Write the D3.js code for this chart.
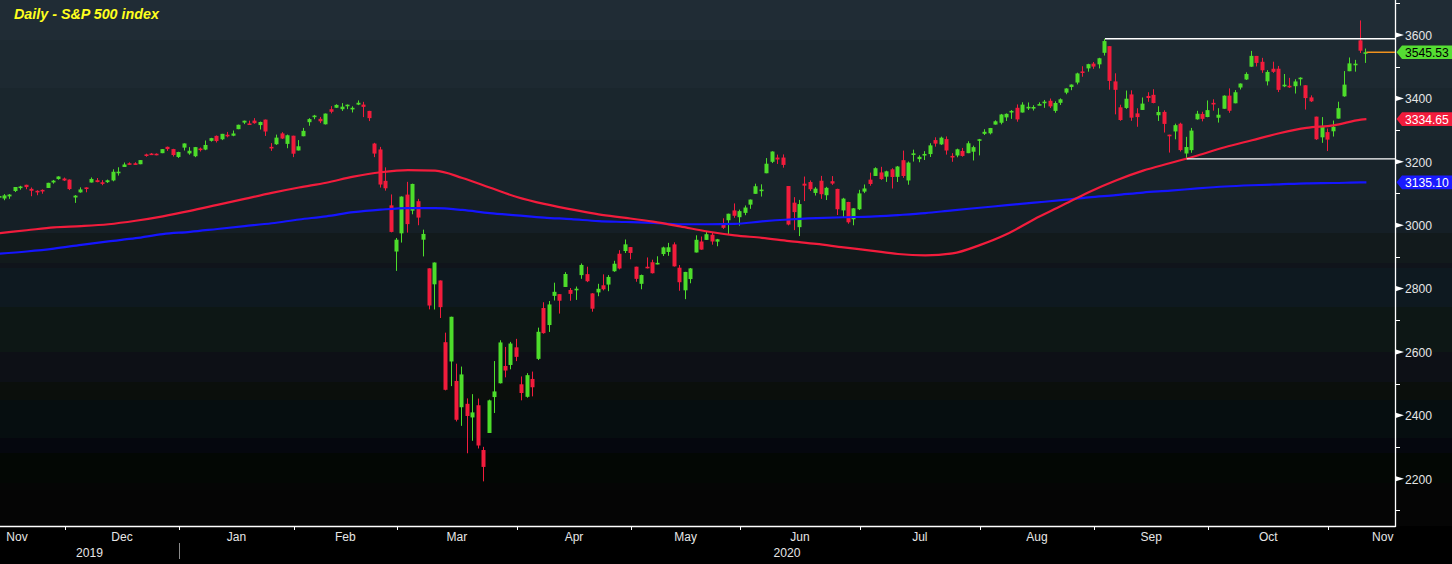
<!DOCTYPE html>
<html><head><meta charset="utf-8">
<script src="https://cdn.jsdelivr.net/npm/d3@7"></script>
<style>
html,body{margin:0;padding:0;background:#000;overflow:hidden}
svg{display:block}
text{font-family:"Liberation Sans",Arial,sans-serif}
</style></head><body>
<svg id="chart" width="1452" height="564"></svg>
<script>
// ---------------- DATA ----------------
const dates = [
"2019-11-12","2019-11-13","2019-11-14","2019-11-15","2019-11-18","2019-11-19","2019-11-20","2019-11-21","2019-11-22","2019-11-25","2019-11-26","2019-11-27","2019-11-29",
"2019-12-02","2019-12-03","2019-12-04","2019-12-05","2019-12-06","2019-12-09","2019-12-10","2019-12-11","2019-12-12","2019-12-13","2019-12-16","2019-12-17","2019-12-18","2019-12-19","2019-12-20","2019-12-23","2019-12-24","2019-12-26","2019-12-27","2019-12-30","2019-12-31",
"2020-01-02","2020-01-03","2020-01-06","2020-01-07","2020-01-08","2020-01-09","2020-01-10","2020-01-13","2020-01-14","2020-01-15","2020-01-16","2020-01-17","2020-01-21","2020-01-22","2020-01-23","2020-01-24","2020-01-27","2020-01-28","2020-01-29","2020-01-30","2020-01-31",
"2020-02-03","2020-02-04","2020-02-05","2020-02-06","2020-02-07","2020-02-10","2020-02-11","2020-02-12","2020-02-13","2020-02-14","2020-02-18","2020-02-19","2020-02-20","2020-02-21","2020-02-24","2020-02-25","2020-02-26","2020-02-27","2020-02-28",
"2020-03-02","2020-03-03","2020-03-04","2020-03-05","2020-03-06","2020-03-09","2020-03-10","2020-03-11","2020-03-12","2020-03-13","2020-03-16","2020-03-17","2020-03-18","2020-03-19","2020-03-20","2020-03-23","2020-03-24","2020-03-25","2020-03-26","2020-03-27","2020-03-30","2020-03-31",
"2020-04-01","2020-04-02","2020-04-03","2020-04-06","2020-04-07","2020-04-08","2020-04-09","2020-04-13","2020-04-14","2020-04-15","2020-04-16","2020-04-17","2020-04-20","2020-04-21","2020-04-22","2020-04-23","2020-04-24","2020-04-27","2020-04-28","2020-04-29","2020-04-30",
"2020-05-01","2020-05-04","2020-05-05","2020-05-06","2020-05-07","2020-05-08","2020-05-11","2020-05-12","2020-05-13","2020-05-14","2020-05-15","2020-05-18","2020-05-19","2020-05-20","2020-05-21","2020-05-22","2020-05-26","2020-05-27","2020-05-28","2020-05-29",
"2020-06-01","2020-06-02","2020-06-03","2020-06-04","2020-06-05","2020-06-08","2020-06-09","2020-06-10","2020-06-11","2020-06-12","2020-06-15","2020-06-16","2020-06-17","2020-06-18","2020-06-19","2020-06-22","2020-06-23","2020-06-24","2020-06-25","2020-06-26","2020-06-29","2020-06-30",
"2020-07-01","2020-07-02","2020-07-06","2020-07-07","2020-07-08","2020-07-09","2020-07-10","2020-07-13","2020-07-14","2020-07-15","2020-07-16","2020-07-17","2020-07-20","2020-07-21","2020-07-22","2020-07-23","2020-07-24","2020-07-27","2020-07-28","2020-07-29","2020-07-30","2020-07-31",
"2020-08-03","2020-08-04","2020-08-05","2020-08-06","2020-08-07","2020-08-10","2020-08-11","2020-08-12","2020-08-13","2020-08-14","2020-08-17","2020-08-18","2020-08-19","2020-08-20","2020-08-21","2020-08-24","2020-08-25","2020-08-26","2020-08-27","2020-08-28","2020-08-31",
"2020-09-01","2020-09-02","2020-09-03","2020-09-04","2020-09-08","2020-09-09","2020-09-10","2020-09-11","2020-09-14","2020-09-15","2020-09-16","2020-09-17","2020-09-18","2020-09-21","2020-09-22","2020-09-23","2020-09-24","2020-09-25","2020-09-28","2020-09-29","2020-09-30",
"2020-10-01","2020-10-02","2020-10-05","2020-10-06","2020-10-07","2020-10-08","2020-10-09","2020-10-12","2020-10-13","2020-10-14","2020-10-15","2020-10-16","2020-10-19","2020-10-20","2020-10-21","2020-10-22","2020-10-23","2020-10-26","2020-10-27","2020-10-28","2020-10-29","2020-10-30",
"2020-11-02","2020-11-03","2020-11-04","2020-11-05","2020-11-06","2020-11-09","2020-11-10"
];
const open = [
3089.28,3084.18,3090.75,3107.92,3117.91,3127.45,3114.66,3108.49,3111.41,3117.44,3134.85,3145.49,3147.18,
3143.85,3087.41,3103.50,3119.21,3134.62,3141.86,3135.36,3135.75,3141.23,3166.65,3183.63,3195.40,3195.21,3192.32,3223.33,3226.05,3225.45,3227.20,3247.23,3240.09,3215.18,
3244.67,3226.36,3217.55,3241.86,3238.59,3266.03,3281.81,3271.13,3285.35,3282.27,3302.97,3323.66,3321.03,3330.02,3315.77,3333.10,3247.16,3255.35,3289.46,3256.45,3282.33,
3235.66,3280.61,3324.91,3344.92,3335.54,3318.28,3365.87,3370.50,3365.90,3378.08,3369.04,3380.39,3380.45,3360.50,3257.61,3238.94,3139.90,3062.54,2916.90,
2974.28,3096.46,3045.75,3075.70,2954.20,2863.89,2813.48,2825.60,2630.86,2569.99,2508.59,2425.66,2436.50,2393.48,2431.94,2290.71,2344.44,2457.77,2501.29,2555.87,2558.98,2614.69,
2498.08,2458.54,2514.92,2578.28,2738.65,2685.00,2776.99,2782.46,2805.10,2795.64,2799.34,2842.43,2845.62,2784.81,2787.89,2810.42,2812.64,2854.65,2909.96,2918.46,2930.91,
2869.09,2815.01,2868.88,2883.14,2878.26,2908.83,2915.46,2939.50,2865.86,2794.54,2829.95,2913.86,2948.59,2953.63,2969.95,2948.05,3004.08,3015.65,3046.61,3025.17,
3038.78,3064.78,3098.90,3111.56,3163.84,3199.92,3213.32,3213.42,3123.53,3071.04,2993.76,3131.00,3136.13,3101.64,3140.29,3094.42,3138.70,3114.40,3046.60,3073.20,3018.59,3050.20,
3105.92,3143.64,3155.29,3166.44,3153.07,3176.17,3152.47,3205.08,3141.11,3225.98,3208.36,3224.21,3224.29,3268.52,3254.86,3271.64,3218.58,3219.84,3234.27,3227.22,3231.76,3270.45,
3288.26,3289.92,3317.37,3323.17,3340.05,3356.04,3370.34,3355.46,3372.95,3368.66,3380.86,3387.04,3392.51,3360.48,3386.01,3418.09,3435.95,3449.97,3485.14,3494.69,3509.73,
3507.44,3543.76,3564.74,3453.60,3371.88,3369.82,3412.56,3352.70,3363.56,3407.73,3411.23,3346.86,3357.38,3285.57,3295.75,3320.11,3226.14,3236.66,3333.90,3350.92,3341.21,
3385.87,3338.94,3367.27,3408.74,3384.56,3434.28,3459.67,3500.02,3534.01,3515.47,3453.72,3493.50,3493.66,3439.38,3439.91,3438.50,3464.90,3441.42,3403.15,3342.48,3277.17,3293.59,
3296.20,3336.25,3406.46,3485.74,3508.34,3583.04,3543.26
];
const high = [
3102.61,3098.06,3098.20,3120.46,3124.17,3127.64,3118.97,3110.11,3112.87,3133.83,3142.69,3154.26,3150.30,
3144.31,3094.97,3119.38,3119.45,3150.60,3148.87,3142.12,3143.98,3176.28,3182.68,3197.71,3198.22,3198.48,3205.48,3225.65,3227.78,3226.43,3240.08,3247.93,3240.92,3231.72,
3258.14,3246.15,3246.84,3244.91,3267.07,3275.58,3282.99,3288.13,3294.25,3298.66,3317.11,3329.88,3329.79,3337.77,3326.88,3333.18,3258.85,3285.78,3293.47,3285.91,3282.33,
3268.44,3306.92,3337.58,3347.96,3341.42,3352.26,3375.63,3381.47,3385.09,3380.69,3375.01,3393.52,3389.15,3360.76,3259.81,3246.99,3182.51,3097.07,2959.72,
3090.96,3136.72,3130.97,3083.04,2985.93,2863.89,2882.59,2825.60,2660.95,2711.33,2562.98,2553.93,2453.57,2466.97,2453.01,2300.73,2449.71,2571.42,2637.01,2615.91,2631.80,2641.39,
2522.75,2533.22,2538.18,2676.85,2756.89,2760.75,2818.57,2782.46,2851.85,2801.88,2806.51,2879.22,2868.98,2785.54,2815.10,2844.90,2842.71,2887.72,2921.15,2954.86,2930.91,
2869.09,2844.24,2898.23,2891.11,2901.92,2932.16,2944.25,2945.82,2874.14,2852.80,2865.01,2968.09,2964.21,2980.29,2978.50,2956.76,3021.72,3036.25,3068.67,3049.17,
3062.18,3081.07,3130.94,3128.91,3211.72,3233.13,3222.71,3223.27,3123.53,3088.42,3079.76,3153.45,3141.16,3120.00,3155.53,3120.92,3154.90,3115.01,3086.25,3073.73,3053.89,3111.51,
3128.44,3165.81,3182.59,3184.15,3171.80,3179.78,3186.82,3235.32,3200.95,3238.28,3220.39,3233.52,3258.61,3277.29,3279.32,3279.99,3227.26,3241.43,3243.72,3264.74,3250.92,3272.17,
3302.73,3306.84,3330.77,3351.03,3352.54,3363.29,3381.01,3387.89,3387.24,3378.51,3387.59,3395.06,3399.54,3390.80,3399.96,3432.09,3444.21,3481.07,3501.38,3509.23,3514.77,
3528.03,3588.11,3564.85,3479.15,3379.97,3424.77,3425.55,3368.95,3402.93,3419.48,3428.92,3375.17,3362.27,3285.57,3320.31,3323.35,3278.70,3306.88,3360.74,3357.92,3393.56,
3397.18,3369.10,3409.57,3431.56,3426.26,3447.28,3482.34,3549.85,3534.01,3527.94,3489.08,3515.76,3502.42,3476.93,3464.86,3460.53,3466.46,3441.42,3409.51,3342.48,3341.05,3304.93,
3330.14,3389.49,3486.25,3529.05,3521.58,3645.99,3557.22
];
const low = [
3084.73,3078.80,3083.26,3104.60,3112.06,3113.47,3091.41,3094.55,3099.26,3117.44,3131.00,3143.41,3139.34,
3110.78,3070.33,3102.53,3103.76,3134.62,3135.46,3126.09,3133.21,3138.47,3156.51,3183.63,3191.03,3191.14,3192.32,3216.03,3222.30,3220.51,3227.20,3234.37,3216.57,3212.03,
3235.53,3222.34,3214.64,3232.43,3236.67,3263.67,3260.86,3268.43,3277.19,3280.69,3302.82,3318.86,3316.61,3320.04,3301.87,3281.53,3234.50,3253.22,3271.89,3242.80,3214.68,
3235.66,3280.61,3313.75,3334.39,3322.12,3317.77,3352.72,3369.72,3360.52,3366.15,3355.61,3378.83,3341.02,3328.45,3214.65,3118.77,3108.99,2977.39,2855.84,
2945.19,2976.63,3034.38,2999.83,2901.54,2734.43,2734.00,2707.22,2478.86,2492.37,2380.94,2367.04,2280.52,2319.78,2295.56,2191.86,2344.44,2407.53,2500.72,2520.02,2545.28,2571.15,
2447.49,2455.79,2459.96,2574.57,2657.67,2663.30,2762.36,2721.17,2805.10,2761.54,2764.32,2830.88,2820.43,2727.10,2775.95,2794.26,2791.76,2852.89,2860.71,2912.16,2892.47,
2821.61,2797.85,2863.55,2847.65,2876.48,2902.88,2903.44,2869.59,2793.15,2766.64,2816.78,2913.86,2922.35,2953.63,2938.57,2933.59,2988.17,2969.75,3023.40,2998.61,
3031.54,3051.64,3098.90,3090.41,3163.84,3196.00,3193.11,3181.49,2999.49,2984.47,2965.66,3076.06,3108.03,3093.51,3083.11,3079.39,3127.12,3032.13,3024.01,3004.63,2999.74,3047.83,
3101.17,3124.52,3155.29,3142.93,3136.53,3115.70,3136.22,3149.43,3127.66,3200.76,3198.59,3205.65,3215.16,3247.77,3253.10,3222.66,3200.05,3214.25,3216.17,3227.22,3204.13,3220.26,
3284.53,3286.37,3317.37,3318.14,3328.72,3335.44,3326.44,3355.46,3363.35,3361.64,3379.22,3370.15,3369.66,3354.69,3379.31,3413.13,3425.84,3444.15,3468.35,3484.32,3493.25,
3494.60,3535.23,3427.41,3349.63,3329.27,3366.84,3329.25,3310.47,3363.56,3389.25,3384.45,3328.82,3292.40,3229.10,3270.95,3232.57,3209.45,3228.44,3332.91,3327.54,3340.47,
3361.39,3323.69,3367.27,3354.54,3384.56,3428.15,3458.07,3499.61,3500.86,3480.55,3440.89,3480.45,3419.93,3435.65,3433.06,3415.34,3440.45,3364.86,3388.71,3268.89,3259.82,3233.94,
3279.74,3336.25,3405.17,3485.74,3484.34,3543.26,3511.91
];
const close = [
3091.84,3094.04,3096.63,3120.46,3122.03,3120.18,3108.46,3103.54,3110.29,3133.64,3140.52,3153.63,3140.98,
3113.87,3093.20,3112.76,3117.43,3145.91,3135.96,3132.52,3141.63,3168.57,3168.80,3191.45,3192.52,3191.14,3205.37,3221.22,3224.01,3223.38,3239.91,3240.02,3221.29,3230.78,
3257.85,3234.85,3246.28,3237.18,3253.05,3274.70,3265.35,3288.13,3283.15,3289.29,3316.81,3329.62,3320.79,3321.75,3325.54,3295.47,3243.63,3276.24,3273.40,3283.66,3225.52,
3248.92,3297.59,3334.69,3345.78,3327.71,3352.09,3357.75,3379.45,3373.94,3380.16,3370.29,3386.15,3373.23,3337.75,3225.89,3128.21,3116.39,2978.76,2954.22,
3090.23,3003.37,3130.12,3023.94,2972.37,2746.56,2882.23,2741.38,2480.64,2711.02,2386.13,2529.19,2398.10,2409.39,2304.92,2237.40,2447.33,2475.56,2630.07,2541.47,2626.65,2584.59,
2470.50,2526.90,2488.65,2663.68,2659.41,2749.98,2789.82,2761.63,2846.06,2783.36,2799.55,2874.56,2823.16,2736.56,2799.31,2797.80,2836.74,2878.48,2863.39,2939.51,2912.43,
2830.71,2842.74,2868.44,2848.42,2881.19,2929.80,2930.32,2870.12,2820.00,2852.50,2863.70,2953.91,2922.94,2971.61,2948.51,2955.45,2991.77,3036.13,3029.73,3044.31,
3055.73,3080.82,3122.87,3112.35,3193.93,3232.39,3207.18,3190.14,3002.10,3041.31,3066.59,3124.74,3113.49,3115.34,3097.74,3117.86,3131.29,3050.33,3083.76,3009.05,3053.24,3100.29,
3115.86,3130.01,3179.72,3145.32,3169.94,3152.05,3185.04,3155.22,3197.52,3226.56,3215.57,3224.73,3251.84,3257.30,3276.02,3235.66,3215.63,3239.41,3218.44,3258.44,3246.22,3271.12,
3294.61,3306.51,3327.77,3349.16,3351.28,3360.47,3333.69,3380.35,3373.43,3372.85,3381.99,3389.78,3374.85,3385.51,3397.16,3431.28,3443.62,3478.73,3484.55,3508.01,3500.31,
3526.65,3580.84,3455.06,3426.96,3331.84,3398.96,3339.19,3340.97,3383.54,3401.20,3385.49,3357.01,3319.47,3281.06,3315.57,3236.92,3246.59,3298.46,3351.60,3335.47,3363.00,
3380.80,3348.42,3408.60,3360.97,3419.44,3446.83,3477.14,3534.22,3511.93,3488.67,3483.34,3483.81,3426.92,3443.12,3435.56,3453.49,3465.39,3400.97,3390.68,3271.03,3310.11,3269.96,
3310.24,3369.16,3443.44,3510.45,3509.44,3550.50,3545.53
];
// moving averages (red = 100-day, blue = 200-day)
const maDates = ["2019-11-12","2019-11-19","2019-11-26","2019-12-04","2019-12-11","2019-12-18","2019-12-26","2020-01-03","2020-01-10","2020-01-17","2020-01-27","2020-02-03","2020-02-10","2020-02-18","2020-02-25","2020-03-03","2020-03-10","2020-03-17","2020-03-24","2020-03-31","2020-04-07","2020-04-15","2020-04-22","2020-04-29","2020-05-06","2020-05-13","2020-05-20","2020-05-28","2020-06-04","2020-06-11","2020-06-18","2020-06-25","2020-07-02","2020-07-10","2020-07-17","2020-07-24","2020-07-31","2020-08-07","2020-08-14","2020-08-21","2020-08-28","2020-09-04","2020-09-14","2020-09-21","2020-09-28","2020-10-05","2020-10-12","2020-10-19","2020-10-26","2020-11-02","2020-11-09","2020-11-10"];
const ma100 = [2975,2984,2993,2997,3003,3014,3028,3045,3064,3083,3102,3119,3134,3153,3167,3174,3172,3149,3119,3089,3067,3050,3034,3023,3011,2996,2980,2968,2960,2950,2941,2930,2920,2909,2905,2911,2937,2972,3019,3061,3104,3141,3172,3196,3220,3246,3268,3290,3307,3315,3333,3334.65];
const ma200 = [2910,2917,2926,2938,2949,2959,2972,2979,2988,2997,3006,3018,3028,3041,3049,3054,3054,3048,3038,3031,3024,3019,3013,3010,3007,3003,3003,3004,3012,3018,3022,3025,3027,3032,3038,3047,3055,3063,3071,3079,3088,3095,3103,3109,3116,3122,3126,3129,3132,3133,3135,3135.10];
// horizontal levels (Sep 2 high, Sep 24 low)
const levelDates = ["2020-09-02","2020-09-24"];
const levelValues = [3588.11, 3209.45];
// last values
const lastLabels = ["3545.53","3334.65","3135.10"];
const lastValues = [3545.53, 3334.65, 3135.10];
// axes
const priceMajor = [2200,2400,2600,2800,3000,3200,3400,3600];
const priceMinor = [2100,2300,2500,2700,2900,3100,3300,3500,3700];
const monthLabels = ["Nov","Dec","Jan","Feb","Mar","Apr","May","Jun","Jul","Aug","Sep","Oct","Nov"];
const monthDays = [20,21,21,19,22,21,20,22,22,21,21,22,20];
const yearLabels = ["2019","2020"];
const title = "Daily - S&P 500 index";

// ---------------- CHART ----------------
const W = 1452, H = 564, PR = 1395, PB = 526;
const svg = d3.select("#chart");
const xi = d3.scaleLinear().domain([0, dates.length - 1]).range([-0.5, 1366.4]);
const y = d3.scaleLinear().domain([2051, 3710.4]).range([PB, 0]);
const idx = new Map(dates.map((d, i) => [d, i]));

const defs = svg.append("defs");
const grad = defs.append("linearGradient").attr("id", "bg")
  .attr("gradientUnits", "userSpaceOnUse").attr("x1", 0).attr("y1", 0).attr("x2", 0).attr("y2", PB);
const bands = [[0,"#202c35"],[40,"#1d2931"],[88,"#1a262d"],[140,"#18232a"],[200,"#151f26"],[233,"#121a1c"],[263,"#10141b"],[268,"#0e1920"],[307,"#0d1715"],[352,"#0d1016"],[382,"#0b0f0c"],[400,"#060e10"],[438,"#05070e"],[453,"#030704"],[483,"#050505"]];
bands.forEach((b, i) => {
  const nxt = i < bands.length - 1 ? bands[i + 1][0] : PB;
  grad.append("stop").attr("offset", b[0] / PB).attr("stop-color", b[1]);
  grad.append("stop").attr("offset", nxt / PB).attr("stop-color", b[1]);
});
defs.append("clipPath").attr("id", "clip").append("rect").attr("x", 0).attr("y", 0).attr("width", PR).attr("height", PB);

svg.append("rect").attr("width", W).attr("height", H).attr("fill", "#000");
svg.append("rect").attr("width", W).attr("height", PB).attr("fill", "url(#bg)");

// title
svg.append("text").attr("x", 14).attr("y", 18.5).text(title)
  .attr("fill", "#ffff1e").attr("font-size", "14.3px").attr("font-weight", "bold").attr("font-style", "italic");

const plot = svg.append("g").attr("clip-path", "url(#clip)");
const UP = "#4ddd2b", DN = "#f21c3c";
const candles = dates.map((d, i) => ({ i, o: open[i], h: high[i], l: low[i], c: close[i] }));
const cg = plot.append("g");
cg.selectAll("rect.w").data(candles).join("rect").attr("class", "w")
  .attr("x", d => Math.round(xi(d.i)) - 1).attr("width", 1)
  .attr("y", d => y(d.h)).attr("height", d => Math.max(1, y(d.l) - y(d.h)))
  .attr("fill", d => d.c >= d.o ? UP : DN);
cg.selectAll("rect.b").data(candles).join("rect").attr("class", "b")
  .attr("x", d => Math.round(xi(d.i)) - 2.5).attr("width", 4)
  .attr("y", d => y(Math.max(d.o, d.c)))
  .attr("height", d => Math.max(1.6, Math.abs(y(d.o) - y(d.c))))
  .attr("fill", d => d.c >= d.o ? UP : DN);

// moving averages
const maLine = d3.line().x(d => xi(idx.get(d.date))).y(d => y(d.v)).curve(d3.curveMonotoneX);
plot.append("path").datum(maDates.map((d, k) => ({ date: d, v: ma200[k] })))
  .attr("d", maLine).attr("fill", "none").attr("stroke", "#1515ff").attr("stroke-width", 2.2);
plot.append("path").datum(maDates.map((d, k) => ({ date: d, v: ma100[k] })))
  .attr("d", maLine).attr("fill", "none").attr("stroke", "#f21c3c").attr("stroke-width", 2.2);

// horizontal levels
levelDates.forEach((d, k) => {
  svg.append("line").attr("x1", xi(idx.get(d))).attr("x2", PR)
    .attr("y1", y(levelValues[k])).attr("y2", y(levelValues[k]))
    .attr("stroke", "#ffffff").attr("stroke-width", 1.3);
});
// last price line
svg.append("line").attr("x1", xi(dates.length - 1)).attr("x2", PR)
  .attr("y1", y(close[close.length - 1])).attr("y2", y(close[close.length - 1]))
  .attr("stroke", "#f0921e").attr("stroke-width", 1.5);

// axes lines
svg.append("line").attr("x1", 0).attr("x2", PR + 0.6).attr("y1", PB + 0.5).attr("y2", PB + 0.5).attr("stroke", "#fff").attr("stroke-width", 1.3);
svg.append("line").attr("x1", PR + 0.5).attr("x2", PR + 0.5).attr("y1", 0).attr("y2", PB + 1).attr("stroke", "#fff").attr("stroke-width", 1.3);

// right axis ticks
const ax = svg.append("g");
ax.selectAll("line.mn").data(priceMinor).join("line")
  .attr("x1", PR).attr("x2", PR + 5).attr("y1", d => Math.round(y(d)) + 0.5).attr("y2", d => Math.round(y(d)) + 0.5)
  .attr("stroke", "#fff").attr("stroke-width", 1);
ax.selectAll("path.mj").data(priceMajor).join("path")
  .attr("d", d => { const yy = y(d); return `M${PR},${yy - 2.8}L${PR + 9},${yy}L${PR},${yy + 2.8}Z`; })
  .attr("fill", "#fff");
ax.selectAll("text.mj").data(priceMajor).join("text")
  .attr("transform", d => `translate(1405,${y(d) + 4.9}) scale(0.9,1)`)
  .attr("font-size", "13.5px").attr("fill", "#e6e6e6").text(d => d);

// last value labels
const lblColors = [["#55dd33", "#000"], ["#f21c3c", "#fff"], ["#1a1aff", "#fff"]];
lastValues.forEach((v, k) => {
  const yy = y(v);
  svg.append("path").attr("d", `M1396.5,${yy}L1402,${yy - 6.8}L1452,${yy - 6.8}L1452,${yy + 6.8}L1402,${yy + 6.8}Z`)
    .attr("fill", lblColors[k][0]);
  svg.append("text").attr("transform", `translate(1405,${yy + 4.9}) scale(0.9,1)`)
    .attr("font-size", "13.5px").attr("fill", lblColors[k][1]).text(lastLabels[k]);
});

// x axis: month boundaries
const monthKey = d => d.slice(0, 7);
const keys = []; const lastIdx = {};
dates.forEach((d, i) => { const k = monthKey(d); if (!(k in lastIdx)) keys.push(k); lastIdx[k] = i; });
const b = [];
keys.forEach((k, m) => { b[m + 1] = lastIdx[k]; });
b[0] = b[1] - monthDays[0];
b[keys.length] = b[keys.length - 1] + monthDays[keys.length - 1];
const tickIdx = b.slice(1, keys.length);
svg.selectAll("line.xt").data(tickIdx).join("line")
  .attr("x1", d => Math.round(xi(d)) + 0.5).attr("x2", d => Math.round(xi(d)) + 0.5)
  .attr("y1", PB).attr("y2", PB + 4).attr("stroke", "#fff").attr("stroke-width", 1);
svg.selectAll("text.xm").data(monthLabels).join("text")
  .attr("x", (d, m) => Math.max(17, xi((b[m] + b[m + 1]) / 2)))
  .attr("y", 541).attr("text-anchor", "middle").attr("font-size", "12px").attr("fill", "#e6e6e6").text(d => d);
// year labels
const yearStart = b[2]; // end of Dec 2019
const yearSpans = [[0, xi(yearStart)], [xi(yearStart), PR]];
svg.append("line").attr("x1", Math.round(xi(yearStart)) + 0.5).attr("x2", Math.round(xi(yearStart)) + 0.5)
  .attr("y1", 543).attr("y2", 559).attr("stroke", "#8a8a8a").attr("stroke-width", 1);
svg.selectAll("text.yr").data(yearLabels).join("text")
  .attr("transform", (d, k) => `translate(${(yearSpans[k][0] + yearSpans[k][1]) / 2},557) scale(0.9,1)`)
  .attr("text-anchor", "middle").attr("font-size", "13.5px").attr("fill", "#e6e6e6").text(d => d);
</script>
</body></html>
